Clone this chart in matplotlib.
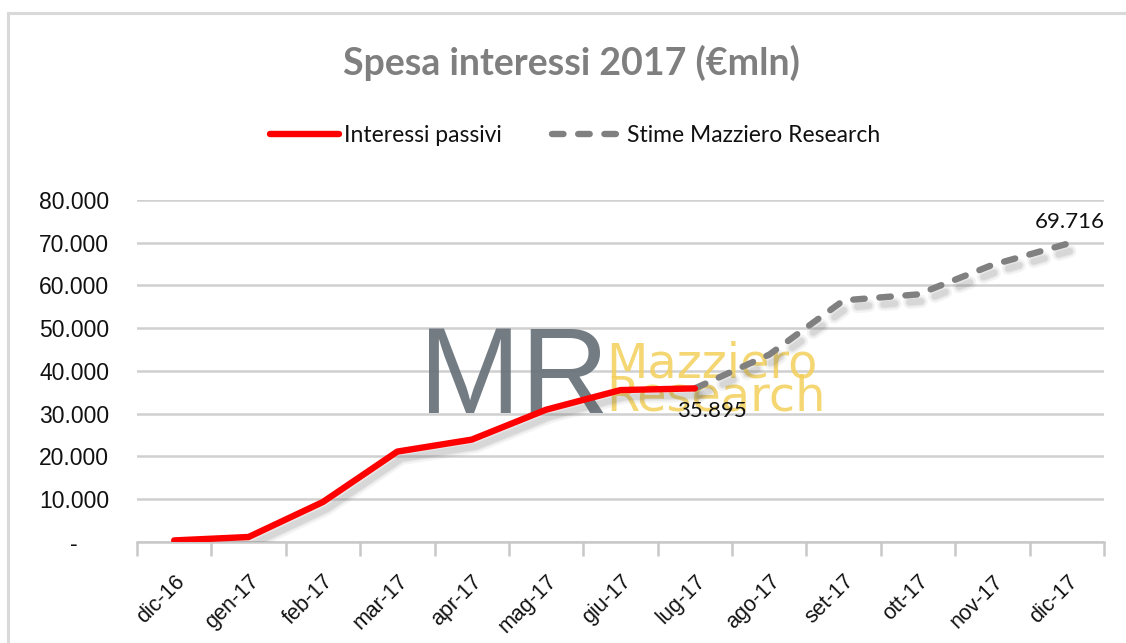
import matplotlib
matplotlib.use("Agg")
import matplotlib.pyplot as plt
import matplotlib.patheffects as pe
from matplotlib.patches import Rectangle
from matplotlib.lines import Line2D

# ---- data ----
categories = ["dic-16", "gen-17", "feb-17", "mar-17", "apr-17", "mag-17", "giu-17",
              "lug-17", "ago-17", "set-17", "ott-17", "nov-17", "dic-17"]
interessi_passivi = [300, 1100, 9300, 21100, 23900, 30900, 35500, 35895]
stime_mazziero = [35895, 43800, 56500, 57900, 64800, 69716]
stime_start = 7
y_ticks = [0, 10000, 20000, 30000, 40000, 50000, 60000, 70000, 80000]
y_tick_labels = ["-     ", "10.000", "20.000", "30.000", "40.000", "50.000",
                 "60.000", "70.000", "80.000"]
title = "Spesa interessi 2017 (€mln)"
label_real = "Interessi passivi"
label_est = "Stime Mazziero Research"
annot_real = "35.895"
annot_est = "69.716"

W, H = 1126, 643
fig = plt.figure(figsize=(W / 100, H / 100), dpi=100)
fig.patch.set_facecolor("white")

narrow = ["Lato", "DejaVu Sans"]
sans = ["Liberation Sans", "DejaVu Sans"]

# outer chart border
fig.add_artist(Rectangle((8 / W, -0.05), 1.2, (1 - 13 / H) + 0.05, transform=fig.transFigure,
                         fill=False, edgecolor="#d9d9d9", linewidth=2.2, zorder=0))

ax = fig.add_axes([137 / W, (H - 541.7) / H, (1104 - 137) / W, (541.7 - 200) / H])
ax.set_xlim(-0.5, len(categories) - 0.5)
ax.set_ylim(0, 80000)

for s in ["top", "right", "left"]:
    ax.spines[s].set_visible(False)
ax.spines["bottom"].set_color("#c8c8c8")
ax.spines["bottom"].set_linewidth(1.8)
ax.set_yticks(y_ticks)
ax.set_yticklabels(y_tick_labels, fontsize=16.5, family=sans, color="#111111")
ax.tick_params(axis="y", length=0, pad=20)
ax.yaxis.grid(True, color="#d0d0d0", linewidth=1.8)
ax.set_axisbelow(True)

xs = list(range(len(categories)))
ax.set_xticks([i - 0.5 for i in range(len(categories) + 1)])
ax.set_xticklabels([""] * (len(categories) + 1))
ax.set_xticks(xs, minor=True)
ax.set_xticklabels(categories, minor=True, rotation=45, ha="right", va="top",
                   rotation_mode="anchor", fontsize=15.5, family=sans, color="#111111")
ax.tick_params(axis="x", which="major", length=10, width=1.8, color="#c8c8c8", direction="out")
ax.tick_params(axis="x", which="minor", length=0, pad=21)

# watermark
ax.text(0.292, 0.377, "MR", transform=ax.transAxes, fontsize=88, family=sans,
        color="#6b747c", alpha=0.95, ha="left", va="baseline", zorder=1)
ax.text(0.485, 0.482, "Mazziero", transform=ax.transAxes, fontsize=34.5,
        family=["DejaVu Sans"], color="#f3cf5a", alpha=0.85, ha="left",
        va="baseline", zorder=1)
ax.text(0.485, 0.3825, "Research", transform=ax.transAxes, fontsize=34.5,
        family=["DejaVu Sans"], color="#f3cf5a", alpha=0.85, ha="left",
        va="baseline", zorder=1)

lw = 4.6
shadow = [pe.SimpleLineShadow(offset=(3, -5), shadow_color="#666666", alpha=0.07, linewidth=lw + 5),
          pe.SimpleLineShadow(offset=(3, -5), shadow_color="#666666", alpha=0.09, linewidth=lw + 2),
          pe.SimpleLineShadow(offset=(3, -5), shadow_color="#666666", alpha=0.12, linewidth=lw),
          pe.Normal()]

ax.plot(xs[:len(interessi_passivi)], interessi_passivi, color="#ff0000",
        linewidth=lw, solid_capstyle="round", solid_joinstyle="round",
        zorder=4, path_effects=shadow)
est_x = list(range(stime_start, stime_start + len(stime_mazziero)))
ax.plot(est_x, stime_mazziero, color="#808080", linewidth=lw,
        dashes=(1.8, 2.3), dash_capstyle="round", zorder=3, path_effects=shadow)

# data labels
ax.annotate(annot_real, (stime_start, interessi_passivi[-1]), xytext=(12, -16.5),
            textcoords="offset points", ha="center", va="center", fontsize=16,
            family=narrow, color="#111111", zorder=5)
ax.annotate(annot_est, (est_x[-1], stime_mazziero[-1]), xytext=(2, 16),
            textcoords="offset points", ha="center", va="center", fontsize=16,
            family=narrow, color="#111111", zorder=5)

fig.text(571 / W, 1 - 63 / H, title, ha="center", va="center", fontsize=27,
         fontweight="bold", family=narrow, color="#7f7f7f")

h1 = Line2D([], [], color="#ff0000", linewidth=lw, solid_capstyle="round")
h2 = Line2D([], [], color="#808080", linewidth=lw, dashes=(1.8, 2.3), dash_capstyle="round")
leg = fig.legend([h1, h2], [label_real, label_est], loc="center",
                 bbox_to_anchor=(575 / W, 1 - 136 / H), ncol=2, frameon=False,
                 handlelength=3.0, columnspacing=2.2, handletextpad=0.25,
                 prop={"family": narrow, "size": 16.5})
for t in leg.get_texts():
    t.set_color("#111111")

fig.savefig("out.png", dpi=100, facecolor="white")
